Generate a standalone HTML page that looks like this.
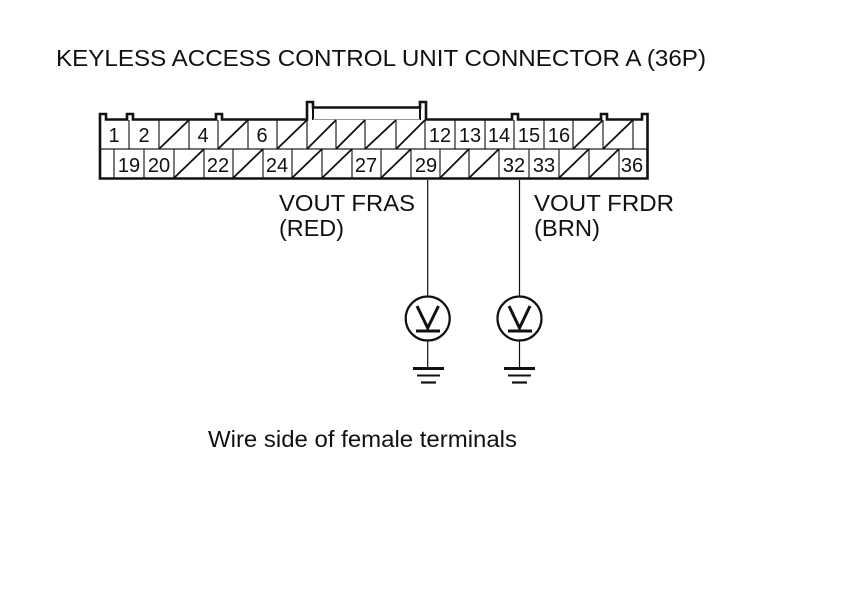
<!DOCTYPE html>
<html>
<head>
<meta charset="utf-8">
<style>
html,body{margin:0;padding:0;background:#fff;width:860px;height:608px;overflow:hidden}
svg{display:block}
text{font-family:"Liberation Sans",Arial,sans-serif;fill:#111}
.n{font-size:20px;text-anchor:middle}
.l{font-size:23.5px}
</style>
</head>
<body>
<svg width="860" height="608" viewBox="0 0 860 608" xmlns="http://www.w3.org/2000/svg">
<rect width="860" height="608" fill="#fff"/>
<text class="l" x="56" y="66" textLength="650" lengthAdjust="spacingAndGlyphs">KEYLESS ACCESS CONTROL UNIT CONNECTOR A (36P)</text>

<!-- connector outline -->
<path fill="none" stroke="#111" stroke-width="2.6" d="M100 178.5V114H106V119.5H127V114H133V119.5H216V114H222V119.5H307V102H313V107.5H420V102H426V119.5H512V114H518V119.5H601V114H607V119.5H642V114H647.5V178.5Z"/>
<path fill="none" stroke="#111" stroke-width="2" d="M313 107.5V120M420 107.5V120"/>
<path fill="none" stroke="#999" stroke-width="1" d="M313 119.5H420"/>

<!-- row line + dividers -->
<g stroke="#222" stroke-width="1.2" fill="none">
<path d="M100 149H647"/>
<path d="M129 120V149M159 120V149M189 120V149M218 120V149M248 120V149M277 120V149M307 120V149M336 120V149M365 120V149M396 120V149M425 120V149M455 120V149M485 120V149M514 120V149M544 120V149M573 120V149M603 120V149M633 120V149"/>
<path d="M114 149V178M144 149V178M174 149V178M204 149V178M233 149V178M263 149V178M292 149V178M322 149V178M352 149V178M381 149V178M411 149V178M440 149V178M469 149V178M499 149V178M529 149V178M559 149V178M589 149V178M619 149V178"/>
</g>
<!-- slashes -->
<g stroke="#111" stroke-width="1.8" fill="none">
<path d="M159 149L189 120M218 149L248 120M277 149L307 120M307 149L336 120M336 149L365 120M365 149L396 120M396 149L425 120M573 149L603 120M603 149L633 120"/>
<path d="M174 178L204 149M233 178L263 149M292 178L322 149M322 178L352 149M381 178L411 149M440 178L469 149M469 178L499 149M559 178L589 149M589 178L619 149"/>
</g>

<!-- top row numbers -->
<text class="n" x="114" y="142">1</text>
<text class="n" x="144" y="142">2</text>
<text class="n" x="203" y="142">4</text>
<text class="n" x="262" y="142">6</text>
<text class="n" x="440" y="142">12</text>
<text class="n" x="470" y="142">13</text>
<text class="n" x="499" y="142">14</text>
<text class="n" x="529" y="142">15</text>
<text class="n" x="559" y="142">16</text>
<!-- bottom row numbers -->
<text class="n" x="129" y="172">19</text>
<text class="n" x="159" y="172">20</text>
<text class="n" x="218" y="172">22</text>
<text class="n" x="277" y="172">24</text>
<text class="n" x="366" y="172">27</text>
<text class="n" x="426" y="172">29</text>
<text class="n" x="514" y="172">32</text>
<text class="n" x="544" y="172">33</text>
<text class="n" x="632" y="172">36</text>

<text class="l" x="279" y="211" textLength="136" lengthAdjust="spacingAndGlyphs">VOUT FRAS</text>
<text class="l" x="279" y="236" textLength="65" lengthAdjust="spacingAndGlyphs">(RED)</text>
<text class="l" x="534" y="211" textLength="140" lengthAdjust="spacingAndGlyphs">VOUT FRDR</text>
<text class="l" x="534" y="236" textLength="66" lengthAdjust="spacingAndGlyphs">(BRN)</text>

<!-- left probe -->
<g fill="none" stroke="#111">
<path stroke-width="1.2" d="M427.7 180V296M427.7 341V368"/>
<circle cx="427.7" cy="318.5" r="22" stroke-width="2.2"/>
<path stroke-width="3" d="M417 306L427.7 328L438.5 306"/>
<path stroke-width="3" d="M416 331H440"/>
<path stroke-width="3" d="M413 368.5H444"/>
<path stroke-width="2" d="M417 375.5H440"/>
<path stroke-width="2.2" d="M421 382.5H436"/>
</g>
<!-- right probe -->
<g fill="none" stroke="#111">
<path stroke-width="1.2" d="M519.5 180V296M519.5 341V368"/>
<circle cx="519.5" cy="318.5" r="22" stroke-width="2.2"/>
<path stroke-width="3" d="M509 306L519.5 328L530 306"/>
<path stroke-width="3" d="M508 331H532"/>
<path stroke-width="3" d="M504 368.5H535"/>
<path stroke-width="2" d="M508 375.5H531"/>
<path stroke-width="2.2" d="M512 382.5H527"/>
</g>

<text class="l" x="208" y="447" textLength="309" lengthAdjust="spacingAndGlyphs">Wire side of female terminals</text>
</svg>
</body>
</html>
